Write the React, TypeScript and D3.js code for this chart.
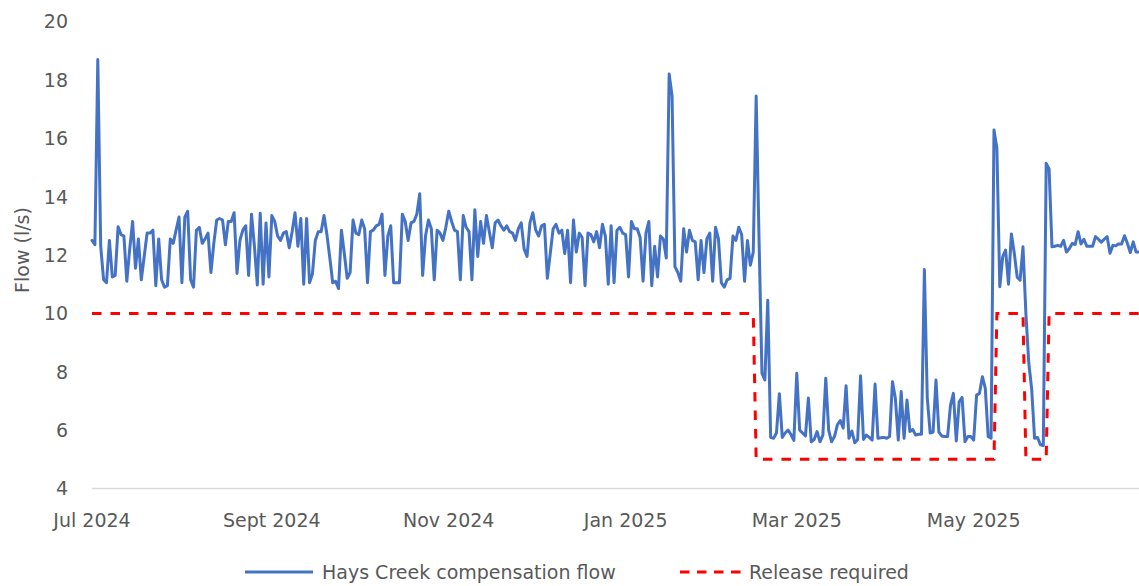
import React from 'react';
import * as d3 from 'd3';

// Daily compensation flow (l/s), one value per day starting 1 Jul 2024
const flowStart = '2024-07-01';
const flowValues = [
  12.5, 12.35, 18.7, 12.3, 11.15, 11.05, 12.5, 11.25, 11.3, 12.97,
  12.7, 12.65, 11.1, 12.2, 13.15, 11.55, 12.55, 11.15, 11.95, 12.75,
  12.75, 12.85, 10.95, 12.55, 11.15, 10.9, 10.95, 12.55, 12.4, 12.85,
  13.3, 11.05, 13.3, 13.5, 11.15, 10.9, 12.85, 12.95, 12.4, 12.55,
  12.75, 11.4, 12.4, 13.2, 13.25, 13.2, 12.35, 13.15, 13.15, 13.45,
  11.37, 12.5, 12.85, 13.0, 11.3, 13.4, 12.3, 10.97, 13.43, 11.0,
  13.1, 11.25, 13.35, 13.15, 12.65, 12.5, 12.75, 12.8, 12.25, 12.8,
  13.45, 12.3, 13.25, 11.0, 13.25, 11.05, 11.35, 12.5, 12.8, 12.8,
  13.35, 12.7, 11.9, 11.05, 11.1, 10.85, 12.85, 12.05, 11.2, 11.4,
  13.2, 12.75, 12.7, 13.2, 12.9, 11.05, 12.8, 12.85, 13.0, 13.05,
  13.4, 11.3, 12.65, 13.0, 11.05, 11.05, 11.05, 13.4, 13.15, 12.5,
  13.1, 13.15, 13.4, 14.1, 11.3, 12.65, 13.2, 12.9, 11.15, 12.85,
  12.75, 12.5, 12.95, 13.5, 13.15, 12.85, 12.8, 11.15, 13.35, 12.95,
  12.8, 11.15, 13.55, 11.95, 13.15, 12.4, 13.35, 12.8, 12.25, 13.1,
  13.2, 13.0, 12.85, 13.0, 12.8, 12.75, 12.5, 12.9, 13.1, 12.2,
  11.95, 13.1, 13.45, 12.85, 12.65, 13.0, 13.05, 11.2, 12.05, 12.9,
  13.05, 12.75, 12.85, 12.05, 12.85, 11.05, 13.2, 12.1, 12.75, 12.6,
  10.95, 12.75, 12.7, 12.45, 12.8, 12.25, 13.05, 12.65, 11.0, 13.0,
  11.05, 12.85, 12.95, 12.75, 12.7, 11.25, 13.15, 12.9, 12.9, 12.6,
  11.1, 12.75, 13.15, 10.95, 12.3, 11.25, 12.65, 12.55, 11.9, 18.2,
  17.45, 11.6, 11.4, 11.1, 12.9, 12.1, 12.85, 12.5, 12.45, 11.15,
  12.5, 11.4, 12.55, 12.75, 11.1, 12.95, 12.55, 11.05, 10.9, 11.15,
  11.2, 12.65, 12.5, 12.95, 12.7, 11.1, 12.5, 11.65, 12.1, 17.45,
  12.5, 7.95, 7.72, 10.45, 5.75, 5.72, 5.9, 7.25, 5.75, 5.9,
  6.0, 5.85, 5.65, 7.95, 6.0, 5.9, 5.8, 7.1, 5.6, 5.68,
  5.95, 5.6, 5.83, 7.78, 6.0, 5.6, 5.78, 6.18, 6.33, 6.07,
  7.52, 5.72, 5.97, 5.57, 5.68, 7.86, 5.68, 5.83, 5.75, 5.66,
  7.58, 5.72, 5.74, 5.75, 5.72, 5.78, 7.66, 7.09, 5.66, 7.32,
  5.72, 7.03, 5.95, 6.02, 5.83, 5.86, 5.86, 11.5, 7.1, 5.9,
  5.93, 7.72, 5.93, 5.8, 5.78, 5.78, 6.85, 7.26, 5.63, 6.97,
  7.12, 5.6, 5.78, 5.78, 5.66, 7.2, 7.26, 7.83, 7.43, 5.78,
  5.72, 16.28, 15.66, 10.91, 11.94, 12.17, 11.0, 12.72, 12.06, 11.24,
  11.14, 12.28, 10.0, 8.3, 7.4, 5.72, 5.75, 5.5, 5.47, 15.14,
  14.95, 12.28, 12.3, 12.33, 12.3, 12.5, 12.1, 12.22, 12.4, 12.36,
  12.8, 12.38, 12.54, 12.3, 12.3, 12.3, 12.63, 12.54, 12.44, 12.54,
  12.63, 12.06, 12.33, 12.32, 12.38, 12.38, 12.66, 12.4, 12.08, 12.45,
  12.1, 12.1,
];

// Required release (l/s): vertices of the dashed line
const releaseDates = [
  '2024-07-01', '2025-02-14', '2025-02-15', '2025-05-08', '2025-05-09',
  '2025-05-18', '2025-05-19', '2025-05-26', '2025-05-27', '2025-06-27',
];
const releaseValues = [10, 10, 5, 5, 10, 10, 5, 5, 10, 10];

const xTickDates = ['2024-07-01', '2024-09-01', '2024-11-01', '2025-01-01', '2025-03-01', '2025-05-01'];
const xTickLabels = ['Jul 2024', 'Sept 2024', 'Nov 2024', 'Jan 2025', 'Mar 2025', 'May 2025'];
const yTicks = [4, 6, 8, 10, 12, 14, 16, 18, 20];

const seriesNames = ['Hays Creek compensation flow', 'Release required'];
const yTitle = 'Flow (l/s)';

const W = 1139;
const H = 586;
const FONT = "'DejaVu Sans', sans-serif";
const TEXT = '#595959';
const BLUE = '#4472C4';
const RED = '#FF0000';
const STROKE = 3;

const parse = d3.utcParse('%Y-%m-%d');

export default function App() {
  const start = parse(flowStart) as Date;
  const flowPoints = flowValues.map((v, i) => ({ date: d3.utcDay.offset(start, i), value: v }));
  const releasePoints = releaseDates.map((d, i) => ({ date: parse(d) as Date, value: releaseValues[i] }));

  const x = d3
    .scaleUtc()
    .domain([start, flowPoints[flowPoints.length - 1].date])
    .range([92, 1139]);
  const y = d3.scaleLinear().domain([4, 20]).range([488.5, 21.5]);

  const line = d3
    .line<{ date: Date; value: number }>()
    .x((d) => x(d.date))
    .y((d) => y(d.value));

  const fontSize = 19;
  const capHalf = fontSize * 0.729 * 0.5;

  return (
    <svg
      width={W}
      height={H}
      viewBox={`0 0 ${W} ${H}`}
      style={{ position: 'absolute', left: 0, top: 0, background: '#fff' }}
      fontFamily={FONT}
      fontSize={fontSize}
    >
      <rect x={0} y={0} width={W} height={H} fill="#fff" />

      {/* horizontal axis line */}
      <line x1={x.range()[0]} x2={W} y1={y(4)} y2={y(4)} stroke="#d9d9d9" strokeWidth={1.5} />

      {/* y tick labels */}
      {yTicks.map((t) => (
        <text key={t} x={68} y={y(t) + capHalf} textAnchor="end" fill={TEXT}>
          {t}
        </text>
      ))}

      {/* y axis title */}
      <text transform={`translate(28.5, 250) rotate(-90)`} textAnchor="middle" fill={TEXT}>
        {yTitle}
      </text>

      {/* x tick labels */}
      {xTickDates.map((d, i) => (
        <text key={d} x={x(parse(d) as Date)} y={527} textAnchor="middle" fill={TEXT}>
          {xTickLabels[i]}
        </text>
      ))}

      {/* release required */}
      <path
        d={line(releasePoints) ?? ''}
        fill="none"
        stroke={RED}
        strokeWidth={STROKE}
        strokeDasharray="9.5 9"
      />

      {/* compensation flow */}
      <path
        d={line(flowPoints) ?? ''}
        fill="none"
        stroke={BLUE}
        strokeWidth={STROKE}
        strokeLinejoin="round"
        strokeLinecap="round"
      />

      {/* legend */}
      <line x1={245} x2={313} y1={572} y2={572} stroke={BLUE} strokeWidth={STROKE} />
      <text x={322} y={572 + capHalf} fill={TEXT}>
        {seriesNames[0]}
      </text>
      <line x1={680} x2={741} y1={572} y2={572} stroke={RED} strokeWidth={STROKE} strokeDasharray="9.5 7.5" />
      <text x={749} y={572 + capHalf} fill={TEXT}>
        {seriesNames[1]}
      </text>
    </svg>
  );
}
